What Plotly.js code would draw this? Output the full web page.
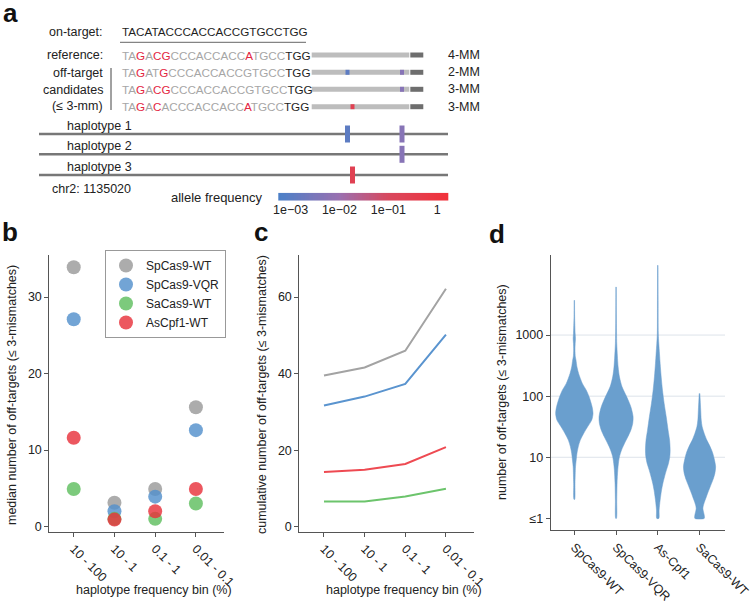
<!DOCTYPE html>
<html><head><meta charset="utf-8">
<script src="https://cdn.plot.ly/plotly-3.0.1.min.js"></script>
<style>html,body{margin:0;padding:0;background:#fff}</style>
</head><body><div id="chart" style="width:750px;height:601px"></div>
<script>
// ================= DATA =================
// Panel a : schematic
const onTarget = "TACATACCCACCACCGTGCCTGG";
const candidateSeqs = [
  "TAGACGCCCACCACCATGCCTGG",
  "TAGATGCCCACCACCGTGCCTGG",
  "TAGACGCCCACCACCGTGCCTGG",
  "TAGACACCCACCACCATGCCTGG"
];
const candidateLabels = ["4-MM", "2-MM", "3-MM", "3-MM"];
const variantIds = ["v1", "v2", "v3"];
const variantPos = [347.5, 402, 352.5];          // schematic genomic position
const variantFreq = [0.0011, 0.005, 0.25];       // allele frequency
const candidateVariants = [[], ["v1", "v2"], ["v2"], ["v3"]];
const haplotypeNames = ["haplotype 1", "haplotype 2", "haplotype 3"];
const haplotypeVariants = [["v1", "v2"], ["v2"], ["v3"]];
const locusLabel = "chr2: 1135020";
const freqTickVals = [-3, -2, -1, 0];
const freqTickText = ["1e\u221203", "1e\u221202", "1e\u221201", "1"];

// Panel b / c
const freqBins = ["10 - 100", "10 - 1", "0.1 - 1", "0.01 - 0.1"];
const nucleases = ["SpCas9-WT", "SpCas9-VQR", "SaCas9-WT", "AsCpf1-WT"];
const medianOffTargets = [
  [33.9, 3.1, 4.9, 15.6],
  [27.1, 2.0, 3.9, 12.6],
  [4.9, 1.0, 1.0, 3.0],
  [11.6, 0.9, 2.0, 4.9]
];
const cumulativeOffTargets = [
  [39.5, 41.6, 46.0, 62.2],
  [31.7, 34.0, 37.3, 50.2],
  [6.6, 6.6, 7.9, 9.9],
  [14.3, 14.9, 16.4, 20.8]
];

// Panel d : violin outlines (log10 of number of off-targets, relative density)
const violinCats = ["SpCas9-WT", "SpCas9-VQR", "As-Cpf1", "SaCas9-WT"];
const violinLog10N = [
  [3.569, 3.297, 3.025, 2.943, 2.861, 2.752, 2.643, 2.589, 2.480, 2.371, 2.207, 2.098, 1.989, 1.826, 1.717, 1.608, 1.499, 1.390, 1.281, 1.172, 1.063, 0.954, 0.845, 0.572, 0.311],
  [3.788, 3.297, 2.861, 2.752, 2.480, 2.316, 2.153, 1.989, 1.826, 1.662, 1.553, 1.444, 1.335, 1.226, 1.117, 1.008, 0.899, 0.790, 0.572, 0.300, 0.0],
  [4.142, 3.569, 3.025, 2.861, 2.698, 2.534, 2.316, 2.098, 1.880, 1.662, 1.444, 1.281, 1.117, 1.008, 0.899, 0.790, 0.681, 0.572, 0.463, 0.300, 0.136, 0.0],
  [2.044, 1.935, 1.771, 1.608, 1.499, 1.390, 1.281, 1.172, 1.063, 0.954, 0.845, 0.736, 0.627, 0.518, 0.409, 0.300, 0.218, 0.163, 0.109, 0.054, 0.0]
];
const violinDensity = [
  [0.012, 0.018, 0.045, 0.062, 0.045, 0.036, 0.054, 0.09, 0.14, 0.23, 0.43, 0.64, 0.79, 0.95, 1.0, 0.93, 0.71, 0.50, 0.32, 0.21, 0.14, 0.10, 0.063, 0.036, 0.018],
  [0.012, 0.018, 0.036, 0.054, 0.11, 0.18, 0.32, 0.57, 0.79, 0.91, 0.89, 0.79, 0.63, 0.45, 0.29, 0.18, 0.125, 0.09, 0.054, 0.036, 0.018],
  [0.012, 0.018, 0.027, 0.054, 0.09, 0.125, 0.18, 0.25, 0.34, 0.45, 0.55, 0.63, 0.66, 0.64, 0.57, 0.46, 0.36, 0.27, 0.20, 0.125, 0.07, 0.054],
  [0.018, 0.036, 0.063, 0.09, 0.14, 0.25, 0.39, 0.57, 0.71, 0.80, 0.86, 0.82, 0.71, 0.57, 0.43, 0.30, 0.21, 0.18, 0.21, 0.25, 0.25]
];
const violinTickVals = [1, 10, 100, 1000];
const violinTickText = ["\u22641", "10", "100", "1000"];

// ================= STYLE / LAYOUT =================
const W = 750, H = 601;
const FONT = "Liberation Sans, Arial, Helvetica, sans-serif";
const SEQSIZE = 11.7;
const TXT = "#222222";
const AXC = "#555555";
const px = (x) => x / W;
const py = (y) => 1 - y / H;
const seriesColors = ["#9a9a9a", "#5390cc", "#5fbe5f", "#e8323c"];
const lineColors = ["#a3a3a3", "#5a94cf", "#6cc46c", "#ee4a52"];
const violinColor = "rgb(106,159,206)";
const freqLo = -3.25, freqHi = 0.225;
const freqScale = [[0, "#4a80c8"], [0.36, "#9a70b0"], [0.647, "#d8485e"], [1, "#f2313a"]];

function hexToRgb(h) { return [parseInt(h.substr(1, 2), 16), parseInt(h.substr(3, 2), 16), parseInt(h.substr(5, 2), 16)]; }
function freqColor(f) {
  const t = Math.max(0, Math.min(1, (Math.log10(f) - freqLo) / (freqHi - freqLo)));
  for (let i = 0; i < freqScale.length - 1; i++) {
    const [t0, c0] = freqScale[i], [t1, c1] = freqScale[i + 1];
    if (t >= t0 && t <= t1) {
      const u = (t - t0) / (t1 - t0), a = hexToRgb(c0), b = hexToRgb(c1);
      return `rgb(${a.map((v, k) => Math.round(v + (b[k] - v) * u)).join(",")})`;
    }
  }
  return freqScale[freqScale.length - 1][1];
}

const traces = [];
const annotations = [];
const shapes = [];

// ---------- Panel a ----------
const seqX0 = 120, barX0 = 311.7, pamX0 = 409.3, barX1 = 423.3;
const seqRowY = [55, 72.3, 89.3, 106.7];
const hapY = [134, 154.3, 175];
const hapX0 = 39, hapX1 = 448;

function aText(text, x, y, anchor, extra) {
  annotations.push(Object.assign({
    text: text, x: x, y: y, xref: "x4", yref: "y4", xanchor: anchor, yanchor: "middle",
    showarrow: false, font: { family: FONT, size: 12.5, color: TXT }
  }, extra || {}));
}
function seqColor(seq, i) {
  if (i >= seq.length - 3) return "#1e1e1e";
  return seq[i] !== onTarget[i] ? "#e3263f" : "#a6a6a6";
}
function colorSeq(seq) {
  let s = "", start = 0;
  for (let i = 1; i <= seq.length; i++) {
    if (i === seq.length || seqColor(seq, i) !== seqColor(seq, start)) {
      s += `<span style="color:${seqColor(seq, start)}">${seq.slice(start, i)}</span>`;
      start = i;
    }
  }
  return s;
}
aText("on-target:", 105, 31.7, "right");
aText(onTarget, seqX0, 31.7, "left", { font: { family: FONT, size: SEQSIZE, color: "#1e1e1e" } });
aText("reference:", 105, seqRowY[0], "right");
aText("off-target", 105, 73, "right");
aText("candidates", 105, 89.5, "right");
aText("(\u2264 3-mm)", 105, 106, "right");
candidateSeqs.forEach((s, i) => {
  aText(colorSeq(s), seqX0, seqRowY[i], "left", { font: { family: FONT, size: SEQSIZE, color: "#a6a6a6" } });
  aText(candidateLabels[i], 446, seqRowY[i], "left");
});
haplotypeNames.forEach((n, i) => aText(n, 65, hapY[i] - 8, "left"));
aText(locusLabel, 50, 189, "left");
aText("allele frequency", 265, 197, "right", { font: { family: FONT, size: 13, color: TXT } });

shapes.push({ type: "line", xref: "x4", yref: "y4", x0: 120, x1: 306, y0: 42.3, y1: 42.3, line: { color: "#666", width: 1 } });
shapes.push({ type: "line", xref: "x4", yref: "y4", x0: 111, x1: 111, y0: 68, y1: 110, line: { color: "#444", width: 1 } });

// candidate bars
const lgX = [], lgY = [], dgX = [], dgY = [];
seqRowY.forEach(y => { lgX.push(barX0, pamX0, null); lgY.push(y, y, null); dgX.push(pamX0 + 1, barX1, null); dgY.push(y, y, null); });
traces.push({ x: lgX, y: lgY, xaxis: "x4", yaxis: "y4", mode: "lines", line: { color: "#bdbdbd", width: 5 }, hoverinfo: "skip", showlegend: false });
traces.push({ x: dgX, y: dgY, xaxis: "x4", yaxis: "y4", mode: "lines", line: { color: "#6e6e6e", width: 5 }, hoverinfo: "skip", showlegend: false });
candidateVariants.forEach((vs, i) => vs.forEach(v => {
  const k = variantIds.indexOf(v);
  traces.push({ x: [variantPos[k] - 2, variantPos[k] + 2], y: [seqRowY[i], seqRowY[i]], xaxis: "x4", yaxis: "y4", mode: "lines",
    line: { color: freqColor(variantFreq[k]), width: 5 }, hoverinfo: "skip", showlegend: false });
}));
// haplotype lines
const hX = [], hY = [];
hapY.forEach(y => { hX.push(hapX0, hapX1, null); hY.push(y, y, null); });
traces.push({ x: hX, y: hY, xaxis: "x4", yaxis: "y4", mode: "lines", line: { color: "#777", width: 2.5 }, hoverinfo: "skip", showlegend: false });
haplotypeVariants.forEach((vs, i) => vs.forEach(v => {
  const k = variantIds.indexOf(v);
  traces.push({ x: [variantPos[k], variantPos[k]], y: [hapY[i] - 8.5, hapY[i] + 8.5], xaxis: "x4", yaxis: "y4", mode: "lines",
    line: { color: freqColor(variantFreq[k]), width: 5 }, hoverinfo: "skip", showlegend: false });
}));
// allele-frequency colour bar
const gx = []; for (let i = 0; i <= 80; i++) gx.push(freqLo + (freqHi - freqLo) * i / 80);
traces.push({ type: "heatmap", x: gx, y: [0], z: [gx], xaxis: "x5", yaxis: "y5", colorscale: freqScale,
  zmin: freqLo, zmax: freqHi, showscale: false, hoverinfo: "skip" });

// ---------- Panel b ----------
nucleases.forEach((n, i) => traces.push({
  x: freqBins.map((_, j) => j), y: medianOffTargets[i], name: n, xaxis: "x", yaxis: "y", mode: "markers",
  marker: { color: seriesColors[i], size: 14, opacity: 0.82 }, showlegend: true
}));
// ---------- Panel c ----------
nucleases.forEach((n, i) => traces.push({
  x: freqBins.map((_, j) => j), y: cumulativeOffTargets[i], name: n, xaxis: "x2", yaxis: "y2", mode: "lines",
  line: { color: lineColors[i], width: 2 }, showlegend: false
}));
// ---------- Panel d ----------
const maxHalf = 0.448;
violinCats.forEach((c, i) => {
  const ys = violinLog10N[i].map(v => Math.pow(10, v));
  const xr = violinDensity[i].map(d => i + d * maxHalf);
  const xl = violinDensity[i].map(d => i - d * maxHalf);
  traces.push({
    x: xr.concat(xl.slice().reverse()), y: ys.concat(ys.slice().reverse()),
    xaxis: "x3", yaxis: "y3", mode: "lines", fill: "toself", fillcolor: violinColor,
    line: { color: violinColor, width: 0.5, shape: "spline", smoothing: 0.8 }, name: c, showlegend: false, hoverinfo: "skip"
  });
});
[10, 100, 1000].forEach(v => shapes.push({ type: "line", xref: "x3 domain", yref: "y3", x0: 0, x1: 1, y0: v, y1: v,
  line: { color: "#dde3ea", width: 1 }, layer: "below" }));

// panel letters & titles
function pText(text, x, y, opts) {
  annotations.push(Object.assign({ text: text, x: px(x), y: py(y), xref: "paper", yref: "paper", showarrow: false,
    xanchor: "center", yanchor: "middle", font: { family: FONT, size: 12.5, color: TXT } }, opts || {}));
}
const letterFont = { family: FONT, size: 26, color: "#111" };
pText("<b>a</b>", 10, 13, { font: letterFont });
pText("<b>b</b>", 10, 232, { font: letterFont });
pText("<b>c</b>", 261, 232, { font: letterFont });
pText("<b>d</b>", 497, 234, { font: letterFont });
pText("median number of off-targets (\u2264 3-mismatches)", 12, 395, { textangle: -90 });
pText("cumulative number of off-targets (\u2264 3-mismatches)", 262, 395, { textangle: -90 });
pText("number of off-targets (\u2264 3-mismatches)", 502, 392, { textangle: -90 });
pText("haplotype frequency bin (%)", 154, 590);
pText("haplotype frequency bin (%)", 404, 590);

const tickFont = { family: FONT, size: 12.5, color: TXT };
function xAx(domain, anchor, range, tt) {
  return { domain: domain, anchor: anchor, range: range, tickmode: "array", tickvals: tt.map((_, j) => j), ticktext: tt,
    tickangle: 45, ticks: "outside", ticklen: 4, tickcolor: AXC, showline: true, linecolor: AXC, linewidth: 1,
    showgrid: false, zeroline: false, tickfont: tickFont, fixedrange: true, automargin: false, ticklabeloverflow: "allow" };
}
function yAx(domain, anchor, range, tv, tt, type) {
  const a = { domain: domain, anchor: anchor, range: range, tickmode: "array", tickvals: tv, ticks: "outside", ticklen: 4,
    tickcolor: AXC, showline: true, linecolor: AXC, linewidth: 1, showgrid: false, zeroline: false, tickfont: tickFont,
    fixedrange: true, automargin: false };
  if (tt) a.ticktext = tt;
  if (type) a.type = type;
  return a;
}
const yDom = [py(531.7), py(255)];
const layout = {
  width: W, height: H, margin: { l: 0, r: 0, t: 0, b: 0 }, autosize: false,
  paper_bgcolor: "#ffffff", plot_bgcolor: "rgba(0,0,0,0)",
  font: { family: FONT, size: 12.5, color: TXT },
  showlegend: true,
  legend: { x: px(105), y: py(250), xanchor: "left", yanchor: "top", bordercolor: "#999", borderwidth: 1,
    bgcolor: "#fff", font: { family: FONT, size: 12, color: TXT } },
  xaxis: xAx([px(49.3), px(224)], "y", [-0.6, 3.69], freqBins),
  yaxis: yAx(yDom, "x", [-0.68, 35.5], [0, 10, 20, 30]),
  xaxis2: xAx([px(299.3), px(474)], "y2", [-0.607, 3.69], freqBins),
  yaxis2: yAx(yDom, "x2", [-1.3, 71], [0, 20, 40, 60]),
  xaxis3: xAx([px(550.7), px(725)], "y3", [-0.566, 3.61], violinCats),
  yaxis3: yAx([py(530), py(255)], "x3", [-0.19, 4.31], violinTickVals, violinTickText, "log"),
  xaxis4: { domain: [0, 1], anchor: "y4", range: [0, 750], visible: false, fixedrange: true },
  yaxis4: { domain: [py(220), 1], anchor: "x4", range: [220, 0], visible: false, fixedrange: true },
  xaxis5: { domain: [px(278.3), px(448.3)], anchor: "y5", range: [freqLo, freqHi], tickmode: "array", tickvals: freqTickVals,
    ticktext: freqTickText, ticks: "", showline: false, showgrid: false, zeroline: false, tickfont: { family: FONT, size: 12.5, color: TXT }, fixedrange: true },
  yaxis5: { domain: [py(200.7), py(192.7)], anchor: "x5", range: [-0.5, 0.5], visible: false, fixedrange: true },
  annotations: annotations, shapes: shapes
};
Plotly.newPlot("chart", traces, layout, { staticPlot: true, displayModeBar: false });
</script></body></html>
